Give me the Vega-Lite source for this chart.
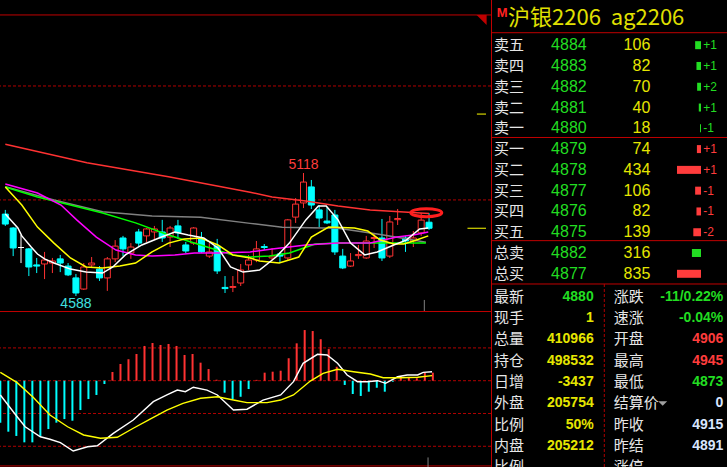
{
  "$schema": "https://vega.github.io/schema/vega-lite/v6.json",
  "background": "#000000",
  "padding": 0,
  "spacing": 0,
  "config": {
    "view": {"stroke": null},
    "axis": {"disable": true},
    "legend": {"disable": true},
    "concat": {"spacing": 0}
  },
  "datasets": {
    "candles": [
      {"i": 0, "open": 4941, "high": 4959, "low": 4890, "close": 4898},
      {"i": 1, "open": 4881, "high": 4885, "low": 4760, "close": 4795},
      {"i": 2, "open": 4797, "high": 4851, "low": 4730, "close": 4797},
      {"i": 3, "open": 4791, "high": 4795, "low": 4674, "close": 4713},
      {"i": 4, "open": 4722, "high": 4752, "low": 4687, "close": 4717},
      {"i": 5, "open": 4726, "high": 4778, "low": 4661, "close": 4743},
      {"i": 6, "open": 4730, "high": 4752, "low": 4687, "close": 4739},
      {"i": 7, "open": 4748, "high": 4765, "low": 4691, "close": 4730},
      {"i": 8, "open": 4717, "high": 4730, "low": 4674, "close": 4679},
      {"i": 9, "open": 4666, "high": 4683, "low": 4588, "close": 4601},
      {"i": 10, "open": 4618, "high": 4730, "low": 4614, "close": 4713},
      {"i": 11, "open": 4722, "high": 4756, "low": 4713, "close": 4730},
      {"i": 12, "open": 4704, "high": 4717, "low": 4653, "close": 4666},
      {"i": 13, "open": 4666, "high": 4756, "low": 4610, "close": 4748},
      {"i": 14, "open": 4748, "high": 4829, "low": 4734, "close": 4803},
      {"i": 15, "open": 4838, "high": 4847, "low": 4760, "close": 4791},
      {"i": 16, "open": 4773, "high": 4816, "low": 4748, "close": 4799},
      {"i": 17, "open": 4864, "high": 4877, "low": 4803, "close": 4816},
      {"i": 18, "open": 4847, "high": 4881, "low": 4821, "close": 4877},
      {"i": 19, "open": 4864, "high": 4890, "low": 4829, "close": 4877},
      {"i": 20, "open": 4864, "high": 4916, "low": 4821, "close": 4838},
      {"i": 21, "open": 4842, "high": 4890, "low": 4799, "close": 4881},
      {"i": 22, "open": 4890, "high": 4916, "low": 4834, "close": 4860},
      {"i": 23, "open": 4808, "high": 4821, "low": 4773, "close": 4782},
      {"i": 24, "open": 4816, "high": 4885, "low": 4808, "close": 4881},
      {"i": 25, "open": 4834, "high": 4864, "low": 4773, "close": 4778},
      {"i": 26, "open": 4760, "high": 4816, "low": 4752, "close": 4778},
      {"i": 27, "open": 4803, "high": 4834, "low": 4683, "close": 4696},
      {"i": 28, "open": 4625, "high": 4674, "low": 4601, "close": 4620},
      {"i": 29, "open": 4625, "high": 4674, "low": 4605, "close": 4629},
      {"i": 30, "open": 4644, "high": 4726, "low": 4631, "close": 4700},
      {"i": 31, "open": 4722, "high": 4765, "low": 4700, "close": 4743},
      {"i": 32, "open": 4743, "high": 4825, "low": 4734, "close": 4791},
      {"i": 33, "open": 4801, "high": 4812, "low": 4786, "close": 4797},
      {"i": 34, "open": 4752, "high": 4795, "low": 4743, "close": 4760},
      {"i": 35, "open": 4769, "high": 4778, "low": 4734, "close": 4760},
      {"i": 36, "open": 4752, "high": 4920, "low": 4743, "close": 4916},
      {"i": 37, "open": 4928, "high": 5010, "low": 4903, "close": 4984},
      {"i": 38, "open": 4989, "high": 5118, "low": 4967, "close": 5079},
      {"i": 39, "open": 5058, "high": 5088, "low": 4963, "close": 4980},
      {"i": 40, "open": 4959, "high": 4980, "low": 4885, "close": 4924},
      {"i": 41, "open": 4911, "high": 4972, "low": 4898, "close": 4903},
      {"i": 42, "open": 4937, "high": 4959, "low": 4765, "close": 4778},
      {"i": 43, "open": 4760, "high": 4791, "low": 4704, "close": 4709},
      {"i": 44, "open": 4717, "high": 4773, "low": 4713, "close": 4739},
      {"i": 45, "open": 4762, "high": 4808, "low": 4748, "close": 4767},
      {"i": 46, "open": 4752, "high": 4847, "low": 4748, "close": 4825},
      {"i": 47, "open": 4836, "high": 4860, "low": 4795, "close": 4840},
      {"i": 48, "open": 4838, "high": 4920, "low": 4739, "close": 4752},
      {"i": 49, "open": 4760, "high": 4933, "low": 4752, "close": 4907},
      {"i": 50, "open": 4917, "high": 4963, "low": 4894, "close": 4922},
      {"i": 51, "open": 4838, "high": 4847, "low": 4778, "close": 4825},
      {"i": 52, "open": 4825, "high": 4868, "low": 4799, "close": 4838},
      {"i": 53, "open": 4860, "high": 4946, "low": 4847, "close": 4915},
      {"i": 54, "open": 4906, "high": 4945, "low": 4873, "close": 4880}
    ],
    "ma": [
      {"ma": "MA120", "i": 0, "v": 5242}, {"ma": "MA120", "i": 10.4, "v": 5162}, {"ma": "MA120", "i": 20.8, "v": 5102},
      {"ma": "MA120", "i": 31.2, "v": 5035}, {"ma": "MA120", "i": 34, "v": 5015}, {"ma": "MA120", "i": 38.3, "v": 4997},
      {"ma": "MA120", "i": 42.4, "v": 4976}, {"ma": "MA120", "i": 46.5, "v": 4959}, {"ma": "MA120", "i": 50.8, "v": 4950},
      {"ma": "MA120", "i": 54, "v": 4944},
      {"ma": "MA60", "i": 0, "v": 5059}, {"ma": "MA60", "i": 6.2, "v": 5002}, {"ma": "MA60", "i": 12.4, "v": 4951},
      {"ma": "MA60", "i": 18.7, "v": 4933}, {"ma": "MA60", "i": 24.9, "v": 4927}, {"ma": "MA60", "i": 31.2, "v": 4901},
      {"ma": "MA60", "i": 35.3, "v": 4884}, {"ma": "MA60", "i": 42.4, "v": 4880}, {"ma": "MA60", "i": 47.4, "v": 4855},
      {"ma": "MA60", "i": 50.7, "v": 4837}, {"ma": "MA60", "i": 53.6, "v": 4820},
      {"ma": "MA30", "i": 0, "v": 5058}, {"ma": "MA30", "i": 4.1, "v": 5015}, {"ma": "MA30", "i": 8.3, "v": 4980},
      {"ma": "MA30", "i": 12.4, "v": 4946}, {"ma": "MA30", "i": 16.6, "v": 4903}, {"ma": "MA30", "i": 20.8, "v": 4851},
      {"ma": "MA30", "i": 24.9, "v": 4808}, {"ma": "MA30", "i": 29, "v": 4765}, {"ma": "MA30", "i": 31.2, "v": 4756},
      {"ma": "MA30", "i": 33.7, "v": 4760}, {"ma": "MA30", "i": 36.2, "v": 4773}, {"ma": "MA30", "i": 39.5, "v": 4812},
      {"ma": "MA30", "i": 42.4, "v": 4816}, {"ma": "MA30", "i": 46.5, "v": 4816}, {"ma": "MA30", "i": 50.8, "v": 4816},
      {"ma": "MA30", "i": 53.6, "v": 4816},
      {"ma": "MA20", "i": 0, "v": 5071}, {"ma": "MA20", "i": 4.1, "v": 5032}, {"ma": "MA20", "i": 7.1, "v": 4980},
      {"ma": "MA20", "i": 9.1, "v": 4916}, {"ma": "MA20", "i": 11.6, "v": 4842}, {"ma": "MA20", "i": 14.1, "v": 4786},
      {"ma": "MA20", "i": 16.6, "v": 4765}, {"ma": "MA20", "i": 18.7, "v": 4760}, {"ma": "MA20", "i": 21.6, "v": 4765},
      {"ma": "MA20", "i": 24.1, "v": 4773}, {"ma": "MA20", "i": 27.1, "v": 4773}, {"ma": "MA20", "i": 31.2, "v": 4778},
      {"ma": "MA20", "i": 34, "v": 4791}, {"ma": "MA20", "i": 38.3, "v": 4808}, {"ma": "MA20", "i": 42.4, "v": 4816},
      {"ma": "MA20", "i": 46.5, "v": 4816}, {"ma": "MA20", "i": 49.9, "v": 4842}, {"ma": "MA20", "i": 52, "v": 4851},
      {"ma": "MA20", "i": 53.9, "v": 4864},
      {"ma": "MA10", "i": 0, "v": 5058}, {"ma": "MA10", "i": 2.1, "v": 4980}, {"ma": "MA10", "i": 4.1, "v": 4885},
      {"ma": "MA10", "i": 6.2, "v": 4816}, {"ma": "MA10", "i": 8.3, "v": 4752}, {"ma": "MA10", "i": 10.3, "v": 4713},
      {"ma": "MA10", "i": 12.4, "v": 4709}, {"ma": "MA10", "i": 14.6, "v": 4717}, {"ma": "MA10", "i": 16.6, "v": 4730},
      {"ma": "MA10", "i": 18.7, "v": 4778}, {"ma": "MA10", "i": 20.8, "v": 4816}, {"ma": "MA10", "i": 22.8, "v": 4834},
      {"ma": "MA10", "i": 24.9, "v": 4838}, {"ma": "MA10", "i": 27.1, "v": 4808}, {"ma": "MA10", "i": 29, "v": 4765},
      {"ma": "MA10", "i": 31.2, "v": 4752}, {"ma": "MA10", "i": 32.4, "v": 4739}, {"ma": "MA10", "i": 34.9, "v": 4730},
      {"ma": "MA10", "i": 37.4, "v": 4756}, {"ma": "MA10", "i": 39, "v": 4842}, {"ma": "MA10", "i": 41.2, "v": 4885},
      {"ma": "MA10", "i": 44.5, "v": 4881}, {"ma": "MA10", "i": 46.2, "v": 4868}, {"ma": "MA10", "i": 47.8, "v": 4829},
      {"ma": "MA10", "i": 49.5, "v": 4812}, {"ma": "MA10", "i": 50.8, "v": 4812}, {"ma": "MA10", "i": 52.4, "v": 4829},
      {"ma": "MA10", "i": 53.9, "v": 4847},
      {"ma": "MA5", "i": 0, "v": 4941}, {"ma": "MA5", "i": 0.8, "v": 4911}, {"ma": "MA5", "i": 1.6, "v": 4881},
      {"ma": "MA5", "i": 2.1, "v": 4847}, {"ma": "MA5", "i": 3.3, "v": 4799}, {"ma": "MA5", "i": 4.1, "v": 4769},
      {"ma": "MA5", "i": 5, "v": 4748}, {"ma": "MA5", "i": 6.2, "v": 4730}, {"ma": "MA5", "i": 8.3, "v": 4704},
      {"ma": "MA5", "i": 10.3, "v": 4691}, {"ma": "MA5", "i": 12.4, "v": 4687}, {"ma": "MA5", "i": 13.7, "v": 4713},
      {"ma": "MA5", "i": 15.3, "v": 4765}, {"ma": "MA5", "i": 17.4, "v": 4808}, {"ma": "MA5", "i": 19.9, "v": 4842},
      {"ma": "MA5", "i": 21.6, "v": 4864}, {"ma": "MA5", "i": 23.3, "v": 4851}, {"ma": "MA5", "i": 25.3, "v": 4838},
      {"ma": "MA5", "i": 27.1, "v": 4795}, {"ma": "MA5", "i": 28.7, "v": 4713}, {"ma": "MA5", "i": 30.3, "v": 4691},
      {"ma": "MA5", "i": 32.4, "v": 4700}, {"ma": "MA5", "i": 34.5, "v": 4756}, {"ma": "MA5", "i": 36.2, "v": 4816},
      {"ma": "MA5", "i": 38.3, "v": 4916}, {"ma": "MA5", "i": 39.9, "v": 4976}, {"ma": "MA5", "i": 40.9, "v": 4976},
      {"ma": "MA5", "i": 42.4, "v": 4916}, {"ma": "MA5", "i": 44, "v": 4816}, {"ma": "MA5", "i": 45.8, "v": 4765},
      {"ma": "MA5", "i": 47.4, "v": 4778}, {"ma": "MA5", "i": 49.5, "v": 4808}, {"ma": "MA5", "i": 51.1, "v": 4829},
      {"ma": "MA5", "i": 52.8, "v": 4877}, {"ma": "MA5", "i": 53.9, "v": 4881}
    ],
    "hist": [
      {"i": 0, "h": -25.6}, {"i": 1, "h": -31.1}, {"i": 2, "h": -33.7}, {"i": 3, "h": -37.6}, {"i": 4, "h": -37.6},
      {"i": 5, "h": -33.7}, {"i": 6, "h": -29.5}, {"i": 7, "h": -25.6}, {"i": 8, "h": -23.4}, {"i": 9, "h": -24.4},
      {"i": 10, "h": -17.9}, {"i": 11, "h": -11.2}, {"i": 12, "h": -8.7}, {"i": 13, "h": -2.0}, {"i": 14, "h": 5.3},
      {"i": 15, "h": 10.2}, {"i": 16, "h": 13.1}, {"i": 17, "h": 16.3}, {"i": 18, "h": 21.2}, {"i": 19, "h": 23.0},
      {"i": 20, "h": 21.8}, {"i": 21, "h": 22.4}, {"i": 22, "h": 21.2}, {"i": 23, "h": 15.7}, {"i": 24, "h": 16.3},
      {"i": 25, "h": 11.0}, {"i": 26, "h": 7.1}, {"i": 27, "h": 0.6}, {"i": 28, "h": -7.3}, {"i": 29, "h": -11.2},
      {"i": 30, "h": -9.8}, {"i": 31, "h": -5.1}, {"i": 32, "h": 0.5}, {"i": 33, "h": 4.9}, {"i": 34, "h": 5.5},
      {"i": 35, "h": 6.1}, {"i": 36, "h": 13.7}, {"i": 37, "h": 22.8}, {"i": 38, "h": 30.9}, {"i": 39, "h": 30.3},
      {"i": 40, "h": 25.3}, {"i": 41, "h": 19.3}, {"i": 42, "h": 8.5}, {"i": 43, "h": -2.6}, {"i": 44, "h": -8.1},
      {"i": 45, "h": -9.3}, {"i": 46, "h": -6.7}, {"i": 47, "h": -4.3}, {"i": 48, "h": -6.7}, {"i": 49, "h": -0.6},
      {"i": 50, "h": 2.9}, {"i": 51, "h": 1.8}, {"i": 52, "h": 1.5}, {"i": 53, "h": 4.9}, {"i": 54, "h": 4.9}
    ],
    "macd": [
      {"line": "DIF", "i": 0, "v": -8.7}, {"line": "DIF", "i": 2.1, "v": -22.0}, {"line": "DIF", "i": 3.1, "v": -28.1},
      {"line": "DIF", "i": 5.0, "v": -34.2}, {"line": "DIF", "i": 6.2, "v": -35.7}, {"line": "DIF", "i": 7.5, "v": -37.8},
      {"line": "DIF", "i": 9.1, "v": -42.9}, {"line": "DIF", "i": 10.9, "v": -40.3}, {"line": "DIF", "i": 12.1, "v": -39.7},
      {"line": "DIF", "i": 14.1, "v": -32.1}, {"line": "DIF", "i": 16.6, "v": -24.0}, {"line": "DIF", "i": 19.1, "v": -12.8},
      {"line": "DIF", "i": 20.8, "v": -8.7}, {"line": "DIF", "i": 22.1, "v": -5.7}, {"line": "DIF", "i": 23.1, "v": -6.7},
      {"line": "DIF", "i": 24.1, "v": -4.0}, {"line": "DIF", "i": 25.8, "v": -5.7}, {"line": "DIF", "i": 27.1, "v": -8.7},
      {"line": "DIF", "i": 29.1, "v": -17.9}, {"line": "DIF", "i": 30.8, "v": -17.4}, {"line": "DIF", "i": 32.8, "v": -11.8},
      {"line": "DIF", "i": 35.0, "v": -8.7}, {"line": "DIF", "i": 36.6, "v": -0.6}, {"line": "DIF", "i": 37.8, "v": 10.6},
      {"line": "DIF", "i": 39.6, "v": 16.1}, {"line": "DIF", "i": 40.8, "v": 15.7}, {"line": "DIF", "i": 42.1, "v": 10.6},
      {"line": "DIF", "i": 43.3, "v": 3.5}, {"line": "DIF", "i": 44.6, "v": -0.6}, {"line": "DIF", "i": 45.8, "v": -0.6},
      {"line": "DIF", "i": 47.1, "v": 0}, {"line": "DIF", "i": 48.1, "v": -1.6}, {"line": "DIF", "i": 49.6, "v": 2.4},
      {"line": "DIF", "i": 50.8, "v": 3.5}, {"line": "DIF", "i": 52.1, "v": 3.5}, {"line": "DIF", "i": 52.8, "v": 5.1},
      {"line": "DIF", "i": 53.9, "v": 5.5},
      {"line": "DEA", "i": 0, "v": 5.1}, {"line": "DEA", "i": 2.1, "v": -1.2}, {"line": "DEA", "i": 4.1, "v": -10.1},
      {"line": "DEA", "i": 6.2, "v": -20.9}, {"line": "DEA", "i": 8.4, "v": -28.1}, {"line": "DEA", "i": 10.4, "v": -33.1},
      {"line": "DEA", "i": 12.5, "v": -35.1}, {"line": "DEA", "i": 14.6, "v": -34.5}, {"line": "DEA", "i": 16.6, "v": -29.0},
      {"line": "DEA", "i": 18.7, "v": -23.4}, {"line": "DEA", "i": 20.8, "v": -17.9}, {"line": "DEA", "i": 22.8, "v": -13.8},
      {"line": "DEA", "i": 25.0, "v": -10.7}, {"line": "DEA", "i": 27.1, "v": -9.8}, {"line": "DEA", "i": 29.1, "v": -11.8},
      {"line": "DEA", "i": 30.8, "v": -13.4}, {"line": "DEA", "i": 33.3, "v": -13.4}, {"line": "DEA", "i": 35.0, "v": -11.8},
      {"line": "DEA", "i": 36.6, "v": -8.7}, {"line": "DEA", "i": 38.7, "v": -0.2}, {"line": "DEA", "i": 40.3, "v": 4.5},
      {"line": "DEA", "i": 42.1, "v": 7.0}, {"line": "DEA", "i": 44.1, "v": 5.5}, {"line": "DEA", "i": 46.2, "v": 4.1},
      {"line": "DEA", "i": 47.8, "v": 1.8}, {"line": "DEA", "i": 49.9, "v": 1.8}, {"line": "DEA", "i": 52.1, "v": 2.1},
      {"line": "DEA", "i": 53.9, "v": 3.1}
    ],
    "book": [
      {"row": 1, "label": "卖五", "price": "4884", "vol": 106, "chg": "+1", "side": "sell", "grp": "level"},
      {"row": 2, "label": "卖四", "price": "4883", "vol": 82, "chg": "+1", "side": "sell", "grp": "level"},
      {"row": 3, "label": "卖三", "price": "4882", "vol": 70, "chg": "+2", "side": "sell", "grp": "level"},
      {"row": 4, "label": "卖二", "price": "4881", "vol": 40, "chg": "+1", "side": "sell", "grp": "level"},
      {"row": 5, "label": "卖一", "price": "4880", "vol": 18, "chg": "-1", "side": "sell", "grp": "level"},
      {"row": 6, "label": "买一", "price": "4879", "vol": 74, "chg": "+1", "side": "buy", "grp": "level"},
      {"row": 7, "label": "买二", "price": "4878", "vol": 434, "chg": "+1", "side": "buy", "grp": "level"},
      {"row": 8, "label": "买三", "price": "4877", "vol": 106, "chg": "-1", "side": "buy", "grp": "level"},
      {"row": 9, "label": "买四", "price": "4876", "vol": 82, "chg": "-1", "side": "buy", "grp": "level"},
      {"row": 10, "label": "买五", "price": "4875", "vol": 139, "chg": "-2", "side": "buy", "grp": "level"},
      {"row": 11, "label": "总卖", "price": "4882", "vol": 316, "chg": "", "side": "sell", "grp": "total"},
      {"row": 12, "label": "总买", "price": "4877", "vol": 835, "chg": "", "side": "buy", "grp": "total"}
    ],
    "stats": [
      {"row": 13, "lab1": "最新", "val1": "4880", "tone1": "down", "lab2": "涨跌", "val2": "-11/0.22%", "tone2": "down"},
      {"row": 14, "lab1": "现手", "val1": "1", "tone1": "vol", "lab2": "速涨", "val2": "-0.04%", "tone2": "down"},
      {"row": 15, "lab1": "总量", "val1": "410966", "tone1": "vol", "lab2": "开盘", "val2": "4906", "tone2": "up"},
      {"row": 16, "lab1": "持仓", "val1": "498532", "tone1": "vol", "lab2": "最高", "val2": "4945", "tone2": "up"},
      {"row": 17, "lab1": "日增", "val1": "-3437", "tone1": "vol", "lab2": "最低", "val2": "4873", "tone2": "down"},
      {"row": 18, "lab1": "外盘", "val1": "205754", "tone1": "vol", "lab2": "结算价", "val2": "0", "tone2": "ref"},
      {"row": 19, "lab1": "比例", "val1": "50%", "tone1": "vol", "lab2": "昨收", "val2": "4915", "tone2": "ref"},
      {"row": 20, "lab1": "内盘", "val1": "205212", "tone1": "vol", "lab2": "昨结", "val2": "4891", "tone2": "ref"},
      {"row": 21, "lab1": "比例", "val1": "", "tone1": "vol", "lab2": "涨停", "val2": "", "tone2": "ref"}
    ]
  },
  "resolve": {"scale": {"x": "independent", "y": "independent", "color": "independent", "stroke": "independent", "fill": "independent"}},
  "hconcat": [
    {
      "spacing": 0,
      "resolve": {"scale": {"x": "independent", "y": "independent", "color": "independent", "stroke": "independent", "fill": "independent"}},
      "vconcat": [
        {
          "width": 491,
          "height": 311,
          "layer": [
            {
              "data": {"values": [{"p": 5493}, {"p": 5002}]},
              "mark": {"type": "rule", "color": "#b00000", "strokeDash": [3, 2], "clip": true},
              "encoding": {
                "y": {"field": "p", "type": "quantitative", "scale": {"domain": [4523.4, 5863.5], "nice": false, "zero": false}}
              }
            },
            {
              "data": {"values": [{"p": 5799}]},
              "mark": {"type": "rule", "color": "#c00000", "clip": true},
              "encoding": {"y": {"field": "p", "type": "quantitative"}}
            },
            {
              "data": {"name": "candles"},
              "transform": [{"calculate": "datum.close > datum.open ? 'up' : (datum.close < datum.open ? 'down' : 'flat')", "as": "dir"}],
              "mark": {"type": "rule", "strokeWidth": 1, "clip": true},
              "encoding": {
                "x": {"field": "i", "type": "quantitative", "scale": {"domain": [-0.04, 61.26], "nice": false, "zero": false}},
                "y": {"field": "low", "type": "quantitative"},
                "y2": {"field": "high"},
                "stroke": {"field": "dir", "type": "nominal", "scale": {"domain": ["up", "down", "flat"], "range": ["#ff3232", "#00ffff", "#ffffff"]}}
              }
            },
            {
              "data": {"name": "candles"},
              "transform": [{"calculate": "datum.close > datum.open ? 'up' : (datum.close < datum.open ? 'down' : 'flat')", "as": "dir"}],
              "mark": {"type": "bar", "width": 6, "strokeWidth": 1, "clip": true},
              "encoding": {
                "x": {"field": "i", "type": "quantitative"},
                "y": {"field": "open", "type": "quantitative"},
                "y2": {"field": "close"},
                "fill": {"field": "dir", "type": "nominal", "scale": {"domain": ["up", "down", "flat"], "range": ["#000000", "#00ffff", "#ffffff"]}},
                "stroke": {"field": "dir", "type": "nominal"}
              }
            },
            {
              "data": {"name": "ma"},
              "mark": {"type": "line", "strokeWidth": 1.5, "clip": true},
              "encoding": {
                "x": {"field": "i", "type": "quantitative"},
                "y": {"field": "v", "type": "quantitative"},
                "color": {"field": "ma", "type": "nominal", "scale": {"domain": ["MA120", "MA60", "MA30", "MA20", "MA10", "MA5"], "range": ["#ff3232", "#808080", "#00ff00", "#ff00ff", "#ffff00", "#ffffff"]}}
              }
            },
            {
              "data": {"values": [{"i": 38, "v": 5118, "t": "5118"}]},
              "mark": {"type": "text", "dy": -8, "baseline": "middle", "font": "Liberation Sans", "fontSize": 14, "color": "#ff3c3c", "clip": true},
              "encoding": {
                "x": {"field": "i", "type": "quantitative"},
                "y": {"field": "v", "type": "quantitative"},
                "text": {"field": "t"}
              }
            },
            {
              "data": {"values": [{"i": 9, "v": 4588, "t": "4588"}]},
              "mark": {"type": "text", "dy": 8, "baseline": "middle", "font": "Liberation Sans", "fontSize": 14, "color": "#40e0e0", "clip": true},
              "encoding": {
                "x": {"field": "i", "type": "quantitative"},
                "y": {"field": "v", "type": "quantitative"},
                "text": {"field": "t"}
              }
            },
            {
              "data": {"values": [{"i": 53.65, "v": 4947}]},
              "mark": {"type": "point", "shape": "M-1,0A1,0.26,0,1,1,1,0A1,0.26,0,1,1,-1,0Z", "size": 961, "filled": false, "color": "#ff1e1e", "strokeWidth": 3, "opacity": 1, "clip": true},
              "encoding": {
                "x": {"field": "i", "type": "quantitative"},
                "y": {"field": "v", "type": "quantitative"}
              }
            },
            {
              "data": {"values": [{"i": 60.7, "v": 5777}]},
              "mark": {"type": "point", "shape": "M-1,-1L1,-1L1,1Z", "size": 100, "filled": true, "color": "#c00000", "opacity": 1, "clip": true},
              "encoding": {
                "x": {"field": "i", "type": "quantitative"},
                "y": {"field": "v", "type": "quantitative"}
              }
            },
            {
              "data": {"values": [{"from": 58.9, "to": 61.26, "v": 4880}, {"from": 60.1, "to": 61.26, "v": 5372}]},
              "mark": {"type": "rule", "color": "#ffff00", "clip": true},
              "encoding": {
                "x": {"field": "from", "type": "quantitative"},
                "x2": {"field": "to"},
                "y": {"field": "v", "type": "quantitative"}
              }
            },
            {
              "data": {"values": [{"i": 53.4, "top": 4571, "bottom": 4523.4}]},
              "mark": {"type": "rule", "color": "#808080", "clip": true},
              "encoding": {
                "x": {"field": "i", "type": "quantitative"},
                "y": {"field": "top", "type": "quantitative"},
                "y2": {"field": "bottom"}
              }
            }
          ]
        },
        {
          "width": 491,
          "height": 156,
          "layer": [
            {
              "data": {"values": [{"g": 20}, {"g": 0}, {"g": -20}, {"g": -40}]},
              "mark": {"type": "rule", "color": "#b00000", "strokeDash": [3, 2], "clip": true},
              "encoding": {
                "y": {"field": "g", "type": "quantitative", "scale": {"domain": [-52.64, 42.52], "nice": false, "zero": false}}
              }
            },
            {
              "data": {"values": [{"g": 42.2}, {"g": -52.0}]},
              "mark": {"type": "rule", "color": "#c00000", "clip": true},
              "encoding": {"y": {"field": "g", "type": "quantitative"}}
            },
            {
              "data": {"name": "hist"},
              "transform": [{"calculate": "datum.h >= 0 ? 'pos' : 'neg'", "as": "sign"}],
              "mark": {"type": "rule", "strokeWidth": 2, "clip": true},
              "encoding": {
                "x": {"field": "i", "type": "quantitative", "scale": {"domain": [-0.04, 61.26], "nice": false, "zero": false}},
                "y": {"field": "h", "type": "quantitative"},
                "y2": {"datum": 0},
                "stroke": {"field": "sign", "type": "nominal", "scale": {"domain": ["pos", "neg"], "range": ["#ff3232", "#00ffff"]}}
              }
            },
            {
              "data": {"name": "macd"},
              "mark": {"type": "line", "strokeWidth": 1.4, "clip": true},
              "encoding": {
                "x": {"field": "i", "type": "quantitative"},
                "y": {"field": "v", "type": "quantitative"},
                "color": {"field": "line", "type": "nominal", "scale": {"domain": ["DIF", "DEA"], "range": ["#ffffff", "#ffff00"]}}
              }
            },
            {
              "data": {"values": [{"i": 53.4, "top": -46.8, "bottom": -52.64}]},
              "mark": {"type": "rule", "color": "#808080", "clip": true},
              "encoding": {
                "x": {"field": "i", "type": "quantitative"},
                "y": {"field": "top", "type": "quantitative"},
                "y2": {"field": "bottom"}
              }
            }
          ]
        }
      ]
    },
    {
      "width": 236,
      "height": 467,
      "resolve": {"scale": {"x": "independent", "color": "independent"}},
      "layer": [
        {
          "layer": [
            {
              "data": {"values": [{"r": 0.40}, {"r": 5.442}, {"r": 10.405}, {"r": 12.445}]},
              "mark": {"type": "rule", "color": "#c00000", "clip": true},
              "encoding": {
                "y": {"field": "r", "type": "quantitative", "scale": {"domain": [-1, 12, 13, 21], "range": [-1.32, 273.8, 296.7, 472.5], "nice": false, "zero": false}}
              }
            },
            {
              "data": {"values": [{"c": 0}]},
              "mark": {"type": "rule", "color": "#c00000", "clip": true},
              "encoding": {
                "x": {"field": "c", "type": "quantitative", "scale": {"domain": [0, 1, 2, 3, 4, 5, 6, 7, 8, 9, 10, 11, 12], "range": [0.5, 3, 5.7, 17, 95.7, 102.7, 113.3, 122.7, 159.3, 171.7, 212.3, 232.3, 236], "nice": false, "zero": false}}
              }
            },
            {
              "data": {"values": [{"c": 6, "from": 12.445, "to": 21}]},
              "mark": {"type": "rule", "color": "#b00000", "strokeDash": [3, 2], "clip": true},
              "encoding": {
                "x": {"field": "c", "type": "quantitative"},
                "y": {"field": "from", "type": "quantitative"},
                "y2": {"field": "to"}
              }
            },
            {
              "data": {"values": [{"c": 2, "r": -0.545, "t": "M"}]},
              "mark": {"type": "text", "align": "left", "baseline": "middle", "font": "Liberation Sans", "fontWeight": "bold", "fontSize": 13, "color": "#ff2020"},
              "encoding": {"x": {"field": "c", "type": "quantitative"}, "y": {"field": "r", "type": "quantitative"}, "text": {"field": "t"}}
            },
            {
              "data": {"values": [{"c": 3, "r": -0.3, "t": "沪银2206\u00a0\u00a0ag2206"}]},
              "mark": {"type": "text", "align": "left", "baseline": "middle", "font": "Noto Sans CJK SC", "fontSize": 22, "color": "#e0e000"},
              "encoding": {"x": {"field": "c", "type": "quantitative"}, "y": {"field": "r", "type": "quantitative"}, "text": {"field": "t"}}
            },
            {
              "data": {"name": "book"},
              "mark": {"type": "text", "align": "left", "baseline": "middle", "font": "Noto Sans CJK SC", "fontSize": 15, "color": "#e6e6e6"},
              "encoding": {"x": {"datum": 1}, "y": {"field": "row", "type": "quantitative"}, "text": {"field": "label"}}
            },
            {
              "data": {"name": "book"},
              "mark": {"type": "text", "align": "right", "baseline": "middle", "font": "Liberation Sans", "fontSize": 16, "color": "#22dd22"},
              "encoding": {"x": {"datum": 4}, "y": {"field": "row", "type": "quantitative"}, "text": {"field": "price"}}
            },
            {
              "data": {"name": "book"},
              "mark": {"type": "text", "align": "right", "baseline": "middle", "font": "Liberation Sans", "fontSize": 16, "color": "#e6e600"},
              "encoding": {"x": {"datum": 8}, "y": {"field": "row", "type": "quantitative"}, "text": {"field": "vol", "type": "nominal"}}
            },
            {
              "data": {"name": "book"},
              "mark": {"type": "text", "align": "left", "baseline": "middle", "font": "Liberation Sans", "fontSize": 12},
              "encoding": {
                "x": {"datum": 10},
                "y": {"field": "row", "type": "quantitative"},
                "text": {"field": "chg"},
                "color": {"field": "side", "type": "nominal", "scale": {"domain": ["up", "down", "vol", "ref", "sell", "buy"], "range": ["#ff3c3c", "#22dd22", "#e6e600", "#d8e6ff", "#22dd22", "#ff3c3c"]}}
              }
            },
            {
              "data": {"name": "stats"},
              "mark": {"type": "text", "align": "left", "baseline": "middle", "font": "Noto Sans CJK SC", "fontSize": 15, "color": "#e6e6e6", "clip": true},
              "encoding": {"x": {"datum": 1}, "y": {"field": "row", "type": "quantitative"}, "text": {"field": "lab1"}}
            },
            {
              "data": {"name": "stats"},
              "mark": {"type": "text", "align": "left", "baseline": "middle", "font": "Noto Sans CJK SC", "fontSize": 15, "color": "#e6e6e6", "clip": true},
              "encoding": {"x": {"datum": 7}, "y": {"field": "row", "type": "quantitative"}, "text": {"field": "lab2"}}
            },
            {
              "data": {"name": "stats"},
              "mark": {"type": "text", "align": "right", "baseline": "middle", "font": "Liberation Sans", "fontWeight": "bold", "fontSize": 14, "clip": true},
              "encoding": {
                "x": {"datum": 5},
                "y": {"field": "row", "type": "quantitative"},
                "text": {"field": "val1"},
                "color": {"field": "tone1", "type": "nominal"}
              }
            },
            {
              "data": {"name": "stats"},
              "mark": {"type": "text", "align": "right", "baseline": "middle", "font": "Liberation Sans", "fontWeight": "bold", "fontSize": 14, "clip": true},
              "encoding": {
                "x": {"datum": 11},
                "y": {"field": "row", "type": "quantitative"},
                "text": {"field": "val2"},
                "color": {"field": "tone2", "type": "nominal"}
              }
            },
            {
              "data": {"values": [{"c": 9, "r": 18}]},
              "mark": {"type": "point", "shape": "M-1,-0.5L1,-0.5L0,0.5Z", "size": 81, "filled": true, "color": "#a0a0a0", "opacity": 1},
              "encoding": {"x": {"field": "c", "type": "quantitative"}, "y": {"field": "r", "type": "quantitative"}}
            }
          ]
        },
        {
          "data": {"name": "book"},
          "transform": [
            {"joinaggregate": [{"op": "max", "field": "vol", "as": "vmax"}], "groupby": ["grp"]},
            {"calculate": "datum.vol / datum.vmax", "as": "share"}
          ],
          "mark": {"type": "bar", "orient": "horizontal", "height": 8, "clip": true},
          "encoding": {
            "x": {"field": "share", "type": "quantitative", "scale": {"domain": [0, 1], "range": [210, 186], "nice": false, "zero": false}},
            "x2": {"datum": 0},
            "y": {"field": "row", "type": "quantitative"},
            "color": {"field": "side", "type": "nominal", "scale": {"domain": ["sell", "buy"], "range": ["#22dd22", "#ff3c3c"]}}
          }
        }
      ]
    }
  ]
}
